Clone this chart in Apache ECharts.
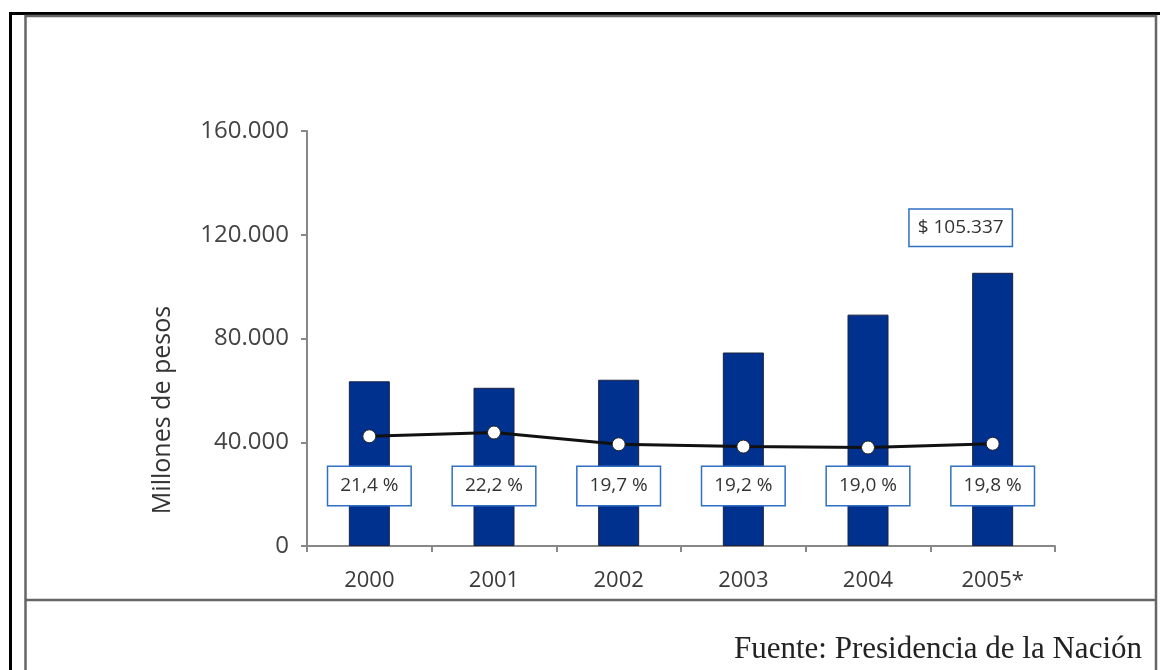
<!DOCTYPE html>
<html>
<head>
<meta charset="utf-8">
<script src="https://cdn.jsdelivr.net/npm/echarts@6/dist/echarts.min.js"></script>
<style>
  html, body { margin: 0; padding: 0; background: #ffffff; }
  #chart { width: 1160px; height: 670px; }
</style>
</head>
<body>
<div id="chart"></div>
<script>
// Recaudación anual (millones de pesos) y presión tributaria (% del PBI)
const years = ['2000', '2001', '2002', '2003', '2004', '2005*'];
const recaudacion = [63500, 61000, 64100, 74600, 89200, 105337];
const presion = [21.4, 22.2, 19.7, 19.2, 19.0, 19.8];
const yMin = 0;
const yMax = 160000;
const yStep = 40000;

const fmtMiles = v => String(Math.round(v)).replace(/\B(?=(\d{3})+(?!\d))/g, '.');
const fmtPct = v => v.toFixed(1).replace('.', ',') + ' %';

const FONT = '"Open Sans", "DejaVu Sans", sans-serif';
const lastIdx = years.length - 1;

const boxLabel = {
  fontFamily: FONT,
  lineHeight: 20,
  color: '#333',
  backgroundColor: '#fff',
  borderColor: '#2f6fc4',
  borderWidth: 1.5
};

const chart = echarts.init(document.getElementById('chart'), null, { renderer: 'canvas' });

chart.setOption({
  backgroundColor: '#ffffff',
  animation: false,
  grid: { left: 307, right: 105, top: 131, bottom: 124 },
  xAxis: {
    type: 'category',
    data: years,
    axisLine: { lineStyle: { color: '#888', width: 2 } },
    axisTick: { show: true, length: 6, lineStyle: { color: '#888', width: 2 } },
    axisLabel: { fontFamily: FONT, fontSize: 22, color: '#3a3a3a', margin: 24 }
  },
  yAxis: [
    {
      type: 'value',
      min: yMin,
      max: yMax,
      interval: yStep,
      splitLine: { show: false },
      axisLine: { show: true, lineStyle: { color: '#888', width: 2 } },
      axisTick: { show: true, length: 6, lineStyle: { color: '#888', width: 2 } },
      axisLabel: { fontFamily: FONT, fontSize: 24, color: '#444', margin: 18, formatter: fmtMiles }
    },
    {
      // escala auxiliar (oculta) para la presión tributaria
      type: 'value',
      min: -2,
      max: 86.5,
      show: false,
      splitLine: { show: false }
    }
  ],
  series: [
    {
      type: 'bar',
      data: recaudacion,
      barWidth: 41,
      itemStyle: { color: '#00318f', borderColor: '#1a2240', borderWidth: 1 },
      label: Object.assign({}, boxLabel, {
        show: true,
        position: 'insideBottom',
        distance: 41,
        formatter: p => fmtPct(presion[p.dataIndex]),
        fontSize: 19,
        padding: [9, 12]
      }),
      markPoint: {
        symbol: 'rect',
        symbolSize: 0,
        data: [{ coord: [years[lastIdx], recaudacion[lastIdx]], value: recaudacion[lastIdx] }],
        label: Object.assign({}, boxLabel, {
          show: true,
          position: 'top',
          distance: 27,
          offset: [-32, 0],
          formatter: p => '$ ' + fmtMiles(p.value),
          fontSize: 19,
          padding: [8, 8]
        })
      },
      z: 2
    },
    {
      type: 'line',
      yAxisIndex: 1,
      data: presion,
      symbol: 'circle',
      symbolSize: 13,
      lineStyle: { color: '#111', width: 3 },
      itemStyle: { color: '#ffffff', borderColor: '#222', borderWidth: 1 },
      label: { show: false },
      z: 3
    }
  ],
  graphic: [
    // marco exterior
    { type: 'rect', shape: { x: 9, y: 12, width: 1160, height: 3 }, style: { fill: '#000' }, silent: true },
    { type: 'rect', shape: { x: 9, y: 12, width: 3, height: 670 }, style: { fill: '#000' }, silent: true },
    // marco interior
    { type: 'rect', shape: { x: 25.5, y: 16, width: 1130.5, height: 680 }, style: { fill: 'none', stroke: '#666', lineWidth: 2.5 }, silent: true },
    { type: 'line', shape: { x1: 25, y1: 600, x2: 1156, y2: 600 }, style: { stroke: '#666', lineWidth: 2.5 }, silent: true },
    // título del eje vertical
    {
      type: 'text',
      x: 163, y: 410,
      rotation: Math.PI / 2,
      style: { text: 'Millones de pesos', fontFamily: FONT, fontSize: 25, fill: '#333', align: 'center', verticalAlign: 'middle' },
      silent: true
    },
    // fuente
    {
      type: 'text',
      x: 1142, y: 650,
      style: { text: 'Fuente: Presidencia de la Nación', fontFamily: '"Liberation Serif", "DejaVu Serif", serif', fontSize: 31, fill: '#222', align: 'right', verticalAlign: 'middle' },
      silent: true
    }
  ]
});
</script>
</body>
</html>
